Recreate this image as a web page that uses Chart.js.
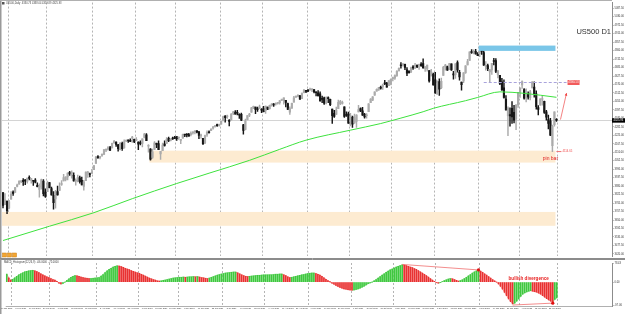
<!DOCTYPE html>
<html>
<head>
<meta charset="utf-8">
<script src="https://cdn.jsdelivr.net/npm/chart.js@4.4.1/dist/chart.umd.min.js"></script>
<style>
html, body { margin: 0; padding: 0; background: #fff; }
#wrap { position: relative; width: 625px; height: 314px; overflow: hidden; background: #fff; }
canvas { position: absolute; left: 0; }
#main { top: 0; }
#osc { top: 259px; }
</style>
</head>
<body>
<div id="wrap">
  <canvas id="main" width="625" height="259"></canvas>
  <canvas id="osc" width="625" height="55"></canvas>
</div>
<script>
// US500 D1, daily bars [open, high, low, close], 27 Jan 2021 .. 28 Feb 2022
const candles = [
  // Jan 2021
  [3836,3836,3732,3750],[3755,3830,3755,3787],[3778,3778,3694,3714],
  // Feb
  [3732,3784,3725,3774],[3791,3843,3791,3826],[3840,3848,3817,3830],[3837,3872,3837,3871],[3878,3894,3874,3887],
  [3893,3916,3893,3915],[3910,3918,3903,3911],[3920,3931,3885,3910],[3917,3925,3890,3916],[3912,3935,3901,3934],
  [3940,3950,3923,3933],[3918,3933,3901,3931],[3916,3918,3885,3913],[3921,3931,3902,3907],
  [3885,3902,3874,3877],[3857,3895,3805,3881],[3873,3928,3860,3925],[3915,3925,3814,3829],[3840,3862,3804,3811],
  // Mar
  [3842,3914,3842,3901],[3904,3906,3868,3870],[3863,3874,3818,3820],[3818,3843,3723,3768],[3793,3851,3730,3842],
  [3844,3881,3819,3821],[3851,3903,3851,3875],[3891,3918,3885,3898],[3916,3960,3916,3939],[3924,3944,3915,3943],
  [3943,3970,3923,3969],[3974,3981,3953,3963],[3949,3984,3935,3974],[3953,3970,3914,3915],[3913,3930,3886,3913],
  [3916,3955,3909,3940],[3937,3949,3901,3910],[3919,3942,3888,3889],[3879,3919,3853,3909],[3917,3978,3917,3975],
  [3969,3981,3940,3971],[3963,3969,3943,3959],[3967,3994,3966,3973],
  // Apr
  [3992,4020,3992,4020],[4034,4083,4034,4078],[4075,4087,4068,4074],[4074,4083,4064,4080],[4089,4098,4082,4097],
  [4096,4129,4095,4129],[4125,4131,4114,4128],[4130,4148,4124,4142],[4141,4151,4120,4125],[4140,4173,4140,4170],
  [4175,4191,4170,4185],[4179,4180,4150,4163],[4160,4164,4118,4135],[4128,4175,4126,4173],[4170,4179,4123,4135],
  [4139,4194,4138,4180],[4185,4194,4182,4188],[4188,4193,4176,4187],[4185,4201,4182,4184],[4206,4218,4176,4211],
  [4198,4199,4175,4181],
  // May
  [4191,4209,4188,4192],[4179,4180,4128,4165],[4177,4187,4160,4168],[4170,4202,4147,4202],[4211,4238,4208,4233],
  [4228,4237,4188,4189],[4151,4163,4111,4153],[4131,4135,4056,4063],[4075,4131,4069,4113],[4130,4183,4130,4174],
  [4170,4172,4142,4164],[4169,4187,4127,4128],[4099,4117,4062,4116],[4121,4172,4121,4159],[4168,4188,4151,4156],
  [4170,4209,4170,4198],[4205,4213,4182,4188],[4191,4203,4187,4195],[4201,4213,4197,4200],[4210,4218,4203,4204],
  // Jun
  [4216,4217,4190,4202],[4207,4213,4198,4208],[4191,4195,4168,4192],[4206,4233,4206,4230],[4229,4232,4215,4227],
  [4233,4236,4214,4227],[4232,4238,4219,4220],[4229,4249,4221,4239],[4242,4249,4233,4247],[4248,4255,4235,4255],
  [4256,4258,4241,4246],[4249,4252,4203,4224],[4221,4233,4206,4222],[4204,4205,4164,4166],[4174,4226,4168,4224],
  [4227,4256,4217,4246],[4249,4256,4241,4242],[4256,4271,4256,4266],[4274,4286,4267,4281],[4284,4292,4280,4291],
  [4293,4301,4285,4291],[4290,4302,4287,4298],
  // Jul
  [4300,4320,4300,4320],[4326,4355,4323,4352],[4356,4359,4314,4344],[4351,4362,4340,4358],[4321,4331,4289,4320],
  [4329,4372,4329,4369],[4373,4387,4365,4385],[4382,4393,4368,4369],[4381,4394,4364,4375],[4369,4371,4340,4361],
  [4367,4376,4325,4327],[4297,4300,4233,4259],[4265,4336,4262,4323],[4331,4359,4330,4359],[4362,4374,4352,4368],
  [4382,4415,4381,4412],[4410,4423,4406,4422],[4417,4417,4372,4401],[4403,4416,4387,4400],[4407,4430,4407,4419],
  [4396,4407,4378,4395],
  // Aug
  [4407,4422,4384,4387],[4392,4423,4374,4423],[4416,4416,4399,4403],[4406,4430,4403,4429],[4429,4441,4423,4437],
  [4438,4440,4421,4432],[4436,4446,4430,4436],[4442,4449,4437,4448],[4446,4461,4436,4460],[4464,4468,4460,4468],
  [4462,4480,4437,4479],[4462,4462,4418,4448],[4441,4444,4399,4400],[4382,4418,4367,4406],[4410,4444,4407,4442],
  [4450,4489,4450,4480],[4484,4492,4482,4486],[4490,4501,4485,4497],[4493,4496,4468,4470],[4474,4513,4474,4509],
  [4514,4537,4513,4529],[4529,4531,4515,4523],
  // Sep
  [4528,4537,4522,4524],[4534,4545,4529,4537],[4533,4541,4521,4535],[4535,4535,4513,4520],[4518,4521,4493,4514],
  [4514,4529,4492,4493],[4506,4520,4457,4459],[4474,4492,4446,4469],[4479,4485,4435,4443],[4447,4486,4438,4481],
  [4477,4486,4447,4474],[4470,4471,4427,4433],[4403,4403,4306,4358],[4374,4394,4347,4354],[4367,4416,4367,4396],
  [4406,4465,4406,4449],[4439,4463,4433,4455],[4442,4457,4436,4443],[4419,4419,4346,4353],[4362,4385,4354,4360],
  [4370,4382,4306,4308],
  // Oct
  [4317,4375,4289,4357],[4348,4356,4279,4300],[4310,4369,4305,4346],[4319,4365,4278,4363],[4383,4429,4383,4400],
  [4406,4412,4386,4391],[4391,4415,4360,4361],[4368,4374,4342,4350],[4358,4372,4342,4364],[4386,4440,4386,4438],
  [4447,4475,4447,4471],[4463,4488,4460,4486],[4497,4520,4496,4520],[4524,4540,4524,4537],[4533,4551,4529,4549],
  [4547,4560,4538,4545],[4553,4572,4537,4567],[4578,4598,4569,4575],[4580,4584,4551,4551],[4562,4597,4562,4596],
  [4572,4608,4567,4605],
  // Nov
  [4610,4621,4595,4614],[4613,4636,4604,4631],[4630,4664,4624,4660],[4662,4683,4662,4680],[4699,4718,4681,4697],
  [4701,4714,4694,4702],[4707,4708,4670,4685],[4670,4684,4630,4646],[4659,4664,4648,4649],[4656,4688,4650,4683],
  [4689,4698,4672,4682],[4680,4714,4679,4700],[4701,4701,4684,4689],[4700,4708,4672,4704],[4708,4718,4692,4698],
  [4712,4744,4681,4682],[4679,4692,4659,4690],[4675,4702,4660,4701],[4664,4664,4585,4595],[4628,4673,4628,4655],
  [4640,4647,4565,4567],
  // Dec
  [4602,4652,4510,4513],[4504,4595,4504,4577],[4589,4608,4495,4538],[4548,4613,4541,4592],[4631,4694,4631,4686],
  [4690,4706,4667,4701],[4691,4695,4666,4668],[4687,4713,4670,4712],[4710,4711,4666,4669],[4642,4660,4606,4635],
  [4636,4712,4611,4710],[4719,4731,4654,4669],[4652,4666,4600,4621],[4587,4587,4531,4568],[4594,4651,4583,4649],
  [4650,4698,4645,4697],[4703,4741,4703,4725],[4733,4791,4733,4791],[4795,4807,4780,4786],[4788,4805,4778,4793],
  [4795,4808,4775,4778],[4775,4787,4765,4766],
  // Jan 2022
  [4778,4797,4758,4797],[4804,4818,4774,4794],[4787,4798,4699,4701],[4693,4726,4668,4696],[4698,4708,4663,4677],
  [4656,4673,4582,4670],[4669,4714,4638,4713],[4728,4748,4703,4726],[4733,4745,4650,4659],[4637,4666,4614,4663],
  [4632,4632,4568,4577],[4588,4612,4530,4533],[4548,4602,4477,4483],[4471,4495,4395,4398],[4357,4418,4222,4410],
  [4366,4411,4287,4356],[4409,4454,4305,4350],[4381,4428,4309,4327],[4337,4432,4264,4432],[4432,4516,4414,4516],
  // Feb 2022
  [4519,4547,4482,4546],[4567,4595,4544,4589],[4535,4542,4470,4477],[4482,4540,4452,4501],[4505,4521,4471,4484],
  [4480,4531,4465,4521],[4547,4590,4547,4587],[4553,4588,4484,4504],[4507,4527,4402,4419],[4413,4427,4364,4401],
  [4430,4473,4430,4472],[4468,4490,4429,4475],[4456,4457,4373,4380],[4385,4395,4328,4349],[4332,4362,4268,4305],
  [4324,4340,4222,4226],[4155,4295,4114,4288],[4298,4385,4287,4385],[4330.73,4338.04,4319.89,4325.93]
];

// histogram values, one per bar
const macd = [
  34,18,8,12,18,24,30,35,39,43,45,47,48,49,47,44,40,35,30,26,22,19,15,11,8,3,-4,-8,-6,0,
  7,14,20,24,27,26,24,21,19,17,16,15,15,16,17,18,19,25,32,40,47,53,58,63,66,68,67,65,62,58,
  55,52,48,45,42,39,37,33,29,25,21,17,14,11,8,5,4,5,7,9,11,13,15,17,18,19,20,20,21,20,
  21,22,22,23,22,23,21,19,18,16,15,17,20,23,26,29,32,34,36,38,39,40,41,42,42,39,35,31,27,24,
  23,24,25,26,27,28,28,29,30,30,30,31,31,32,33,33,34,34,31,27,22,19,20,22,24,26,28,30,32,34,
  36,37,38,38,36,33,29,24,18,12,6,1,-4,-9,-14,-18,-22,-25,-28,-30,-32,-33,-34,-33,-31,-28,-25,-21,-17,-12,
  -7,-3,0,5,11,17,23,29,35,41,46,51,55,59,63,66,69,72,71,69,66,63,61,57,53,48,43,38,33,27,
  21,15,9,3,-2,-4,-2,2,6,10,13,15,14,11,7,4,6,10,15,20,26,32,38,43,47,49,46,41,35,29,
  23,17,11,5,0,-8,-18,-30,-43,-57,-70,-82,-91,-88,-80,-70,-60,-51,-45,-41,-38,-36,-38,-40,-42,-46,-51,-57,-63,-69,
  -75,-80,-84,-72,-66
];

// moving average: [bar index, price]
const maPoints = [
  [0,3511],[23,3608],[45,3700],[64,3795],[86,3898],[102,3968],[122,4055],[137,4130],[150,4192],
  [172,4260],[187,4305],[197,4342],[208,4385],[213,4408],[229,4460],[235,4482],[246,4520],[258,4510],[274,4483]
];

const priceTicks = [
  3420.0,3477.5,3535.0,3592.5,3650.0,3707.5,3765.0,3822.5,3880.0,3937.5,
  3995.0,4052.5,4110.0,4167.5,4225.0,4282.5,4340.0,4397.5,4455.0,4512.5,
  4570.0,4627.5,4685.0,4742.5,4800.0,4857.5,4915.0,4972.5,5030.0,5087.5
];
const oscTicks = [78.43, 0, -97.06];

// drawn levels
const zones = [{from: 73, to: 273, lo: 4040, hi: 4121}, {from: null, to: 273, lo: 3611, hi: 3705}];
const supply = {from: 236, to: 273, lo: 4798, hi: 4834};
const resistance = {from: 238, to: 279, price: 4590.13};
const pinBar = {at: 272, price: 4114.65};
const arrowPath = [[276, 4332], [279, 4512]];
const divergences = [[[197, 74], [235, 51]], [[252, -96], [272, -88]]];
const divergenceLabel = {at: 260, value: 14};

// trading day labels
const holidays = ['2021-02-15','2021-04-02','2021-05-31','2021-07-05','2021-09-06','2021-11-25','2021-12-24','2022-01-17','2022-02-21'];
const MONTHS = ['Jan','Feb','Mar','Apr','May','Jun','Jul','Aug','Sep','Oct','Nov','Dec'];
const dates = [];
let day = new Date(Date.UTC(2021, 0, 27));
while (dates.length < 302) {
  const dow = day.getUTCDay();
  if (dow !== 0 && dow !== 6 && !holidays.includes(day.toISOString().slice(0, 10))) {
    dates.push(day.getUTCDate() + ' ' + MONTHS[day.getUTCMonth()] + ' ' + day.getUTCFullYear());
  }
  day.setUTCDate(day.getUTCDate() + 1);
}

const FONT = '"Liberation Sans", Arial, sans-serif';
const monthStart = i => i > 0 && i <= candles.length && dates[i].split(' ')[1] !== dates[i - 1].split(' ')[1];
const gridColor = ctx => monthStart(ctx.index) ? '#b4b4b4' : 'rgba(0,0,0,0)';
const candleColor = ctx => {
  const c = candles[ctx.dataIndex];
  return c && c[3] >= c[0] ? '#ababab' : '#161616';
};
const last = candles[candles.length - 1];

function step(x) { return x.getPixelForValue(1) - x.getPixelForValue(0); }

const mainDecor = {
  id: 'mainDecor',
  beforeDatasetsDraw(chart) {
    const {ctx, chartArea: a, scales: {x, y}} = chart;
    const s = step(x);
    ctx.save();
    ctx.fillStyle = 'rgb(253,235,209)';
    zones.forEach(z => {
      const x0 = z.from === null ? a.left : x.getPixelForValue(z.from) - s / 2;
      const x1 = x.getPixelForValue(z.to) + s / 2;
      const y0 = y.getPixelForValue(z.hi), y1 = y.getPixelForValue(z.lo);
      ctx.fillRect(x0, y0, x1 - x0, y1 - y0);
    });
    // current price line
    const yc = Math.round(y.getPixelForValue(last[3])) + 0.5;
    ctx.strokeStyle = '#d4d4d4';
    ctx.lineWidth = 1;
    ctx.beginPath(); ctx.moveTo(a.left, yc); ctx.lineTo(a.right, yc); ctx.stroke();
    ctx.restore();
  },
  afterDatasetsDraw(chart) {
    const {ctx, scales: {x, y}} = chart;
    const s = step(x);
    ctx.save();
    // supply box at the top
    ctx.fillStyle = 'rgb(122,198,232)';
    const bx0 = x.getPixelForValue(supply.from) - s / 2, bx1 = x.getPixelForValue(supply.to) + s / 2;
    const by0 = y.getPixelForValue(supply.hi), by1 = y.getPixelForValue(supply.lo);
    ctx.fillRect(bx0, by0, bx1 - bx0, by1 - by0);

    // resistance dashed line + price tag
    const ry = Math.round(y.getPixelForValue(resistance.price)) + 0.5;
    const rx1 = x.getPixelForValue(resistance.to);
    ctx.strokeStyle = '#a9a3dc';
    ctx.lineWidth = 1;
    ctx.setLineDash([3, 2]);
    ctx.beginPath(); ctx.moveTo(x.getPixelForValue(resistance.from), ry); ctx.lineTo(rx1, ry); ctx.stroke();
    ctx.setLineDash([]);
    ctx.fillStyle = '#f25a5a';
    ctx.fillRect(rx1 + 1, ry - 2.5, 12, 5);
    ctx.fillStyle = '#fff';
    ctx.font = '2.8px ' + FONT;
    ctx.textBaseline = 'middle';
    ctx.textAlign = 'left';
    ctx.fillText(resistance.price.toFixed(2), rx1 + 1.8, ry);

    // pin bar low tag
    const px = x.getPixelForValue(pinBar.at), py = y.getPixelForValue(pinBar.price);
    ctx.strokeStyle = '#f07070';
    ctx.beginPath(); ctx.moveTo(px + 4, py); ctx.lineTo(px + 9, py); ctx.stroke();
    ctx.fillStyle = '#f05050';
    ctx.fillText(pinBar.price.toFixed(2), px + 10, py);
    ctx.font = '5px ' + FONT;
    ctx.textAlign = 'center';
    ctx.fillStyle = '#e02020';
    ctx.fillText('pin bar', px - 2, py + 7);

    // arrow up
    const ax0 = x.getPixelForValue(arrowPath[0][0]), ay0 = y.getPixelForValue(arrowPath[0][1]);
    const ax1 = x.getPixelForValue(arrowPath[1][0]), ay1 = y.getPixelForValue(arrowPath[1][1]);
    ctx.strokeStyle = '#f06262';
    ctx.lineWidth = 0.8;
    ctx.beginPath(); ctx.moveTo(ax0, ay0); ctx.lineTo(ax1, ay1); ctx.stroke();
    const ang = Math.atan2(ay1 - ay0, ax1 - ax0);
    ctx.fillStyle = '#f03c3c';
    ctx.beginPath();
    ctx.moveTo(ax1, ay1);
    ctx.lineTo(ax1 - 3 * Math.cos(ang - 0.45), ay1 - 3 * Math.sin(ang - 0.45));
    ctx.lineTo(ax1 - 3 * Math.cos(ang + 0.45), ay1 - 3 * Math.sin(ang + 0.45));
    ctx.closePath(); ctx.fill();
    ctx.restore();
  },
  afterDraw(chart) {
    const {ctx, chartArea: a, scales: {y}} = chart;
    ctx.save();
    // window frame
    ctx.strokeStyle = '#9a9a9a';
    ctx.lineWidth = 1.5;
    ctx.beginPath(); ctx.moveTo(0.75, 0); ctx.lineTo(0.75, 259); ctx.stroke();
    ctx.lineWidth = 1;
    ctx.strokeStyle = '#b0b0b0';
    ctx.beginPath(); ctx.moveTo(0, 0.5); ctx.lineTo(a.right, 0.5); ctx.stroke();
    ctx.strokeStyle = '#8c8c8c';
    ctx.beginPath(); ctx.moveTo(0, 258.5); ctx.lineTo(625, 258.5); ctx.stroke();

    // current price box on the axis
    const yc = y.getPixelForValue(last[3]);
    ctx.fillStyle = '#000';
    ctx.fillRect(a.right, yc - 2.2, 13, 4.4);
    ctx.fillStyle = '#fff';
    ctx.font = '2.7px ' + FONT;
    ctx.textBaseline = 'middle';
    ctx.textAlign = 'left';
    ctx.fillText(last[3].toFixed(2), a.right + 1.5, yc);

    // symbol caption
    ctx.fillStyle = '#333';
    ctx.font = '7.5px ' + FONT;
    ctx.textAlign = 'right';
    ctx.fillText('US500 D1', a.right - 1, 32);

    // top-left quote line
    ctx.fillStyle = '#555';
    ctx.fillRect(2, 2, 2.5, 2.5);
    ctx.font = '2.6px ' + FONT;
    ctx.textAlign = 'left';
    ctx.fillStyle = '#444';
    ctx.fillText('US500,Daily  ' + last.map(v => v.toFixed(2)).join(' '), 6, 3.5);

    // one-click buttons
    ['#f3a632', '#f3a632', '#f3a632'].forEach((c, i) => {
      ctx.fillStyle = c;
      ctx.fillRect(2.5 + i * 5, 253, 4, 4);
      ctx.strokeStyle = '#c97d10';
      ctx.lineWidth = 0.5;
      ctx.strokeRect(2.5 + i * 5, 253, 4, 4);
    });
    ctx.restore();
  }
};

const oscDecor = {
  id: 'oscDecor',
  afterDraw(chart) {
    const {ctx, chartArea: a, scales: {x, y}} = chart;
    ctx.save();
    ctx.strokeStyle = '#8c8c8c';
    ctx.lineWidth = 1;
    ctx.beginPath(); ctx.moveTo(0, 0.5); ctx.lineTo(625, 0.5); ctx.stroke();
    ctx.strokeStyle = '#9a9a9a';
    ctx.lineWidth = 1.5;
    ctx.beginPath(); ctx.moveTo(0.75, 0); ctx.lineTo(0.75, 55); ctx.stroke();
    ctx.lineWidth = 1;
    ctx.strokeStyle = '#b0b0b0';
    ctx.beginPath(); ctx.moveTo(a.left, a.bottom + 0.5); ctx.lineTo(a.right, a.bottom + 0.5); ctx.stroke();

    ctx.fillStyle = '#444';
    ctx.font = '2.6px ' + FONT;
    ctx.textBaseline = 'middle';
    ctx.fillText('MACD_Histogram(12,26,9)  ' + macd[macd.length - 1].toFixed(4) + '  ' + macd[macd.length - 2].toFixed(4), 4, 3.5);

    ctx.fillStyle = '#e82020';
    ctx.font = 'bold 4.6px ' + FONT;
    ctx.textAlign = 'center';
    ctx.fillText('bullish divergence', x.getPixelForValue(divergenceLabel.at), y.getPixelForValue(divergenceLabel.value));
    ctx.restore();
  }
};

const rightAxis = (min, max, ticks) => ({
  position: 'right', min, max,
  afterBuildTicks: s => { s.ticks = ticks.map(v => ({value: v})); },
  afterFit: s => { s.width = 13; },
  ticks: {font: {size: 2.6, family: FONT}, color: '#333', padding: 1, callback: v => Number(v).toFixed(2)},
  grid: {drawOnChartArea: false, tickLength: 1.5, color: '#888'},
  border: {color: '#8c8c8c'}
});

new Chart(document.getElementById('main'), {
  type: 'bar',
  data: {
    labels: dates,
    datasets: [
      {type: 'line', label: 'MA', data: maPoints.map(p => ({x: dates[p[0]], y: p[1]})),
       borderColor: '#3ee23e', borderWidth: 1, pointRadius: 0, cubicInterpolationMode: 'monotone', order: 0},
      {label: 'body', data: candles.map(c => [Math.min(c[0], c[3]), Math.max(c[0], c[3])]),
       backgroundColor: candleColor, barThickness: 1.5, minBarLength: 1, grouped: false, order: 1},
      {label: 'wick', data: candles.map(c => [c[2], c[1]]),
       backgroundColor: candleColor, barThickness: 0.8, grouped: false, order: 2}
    ]
  },
  options: {
    responsive: false,
    animation: false,
    devicePixelRatio: 1,
    layout: {padding: {left: 2, top: 1, bottom: 1, right: 0}},
    plugins: {legend: {display: false}, tooltip: {enabled: false}},
    scales: {
      x: {
        offset: true,
        ticks: {display: false, autoSkip: false},
        grid: {color: gridColor, drawTicks: false, offset: true},
        border: {display: false, dash: [2, 2]},
        afterFit: s => { s.height = 0; }
      },
      y: rightAxis(3403, 5126, priceTicks)
    }
  },
  plugins: [mainDecor]
});

const rising = c => c.p1.parsed.y >= c.p0.parsed.y;

new Chart(document.getElementById('osc'), {
  type: 'bar',
  data: {
    labels: dates,
    datasets: [
      {type: 'line', data: macd, fill: 'origin', borderWidth: 0.8, pointRadius: 0, tension: 0,
       borderColor: 'rgba(240,120,120,0.8)', backgroundColor: 'rgba(255,160,160,0.35)',
       segment: {
         borderColor: c => rising(c) ? 'rgba(120,215,120,0.9)' : 'rgba(242,120,120,0.9)',
         backgroundColor: c => rising(c) ? 'rgba(160,232,160,0.4)' : 'rgba(255,165,165,0.4)'
       }, order: 3},
      {data: macd, barThickness: 1, grouped: false, order: 2,
       backgroundColor: c => c.dataIndex > 0 && macd[c.dataIndex] < macd[c.dataIndex - 1] ? '#e83232' : '#3fc83f'},
      ...divergences.map(dv => ({
        type: 'line', data: dv.map(p => ({x: dates[p[0]], y: p[1]})),
        borderColor: '#f07070', borderWidth: 0.8, pointRadius: [0, 1.6],
        pointBackgroundColor: '#e01010', pointBorderWidth: 0, order: 0
      }))
    ]
  },
  options: {
    responsive: false,
    animation: false,
    devicePixelRatio: 1,
    layout: {padding: {left: 2, top: 1, bottom: 0, right: 0}},
    plugins: {legend: {display: false}, tooltip: {enabled: false}},
    scales: {
      x: {
        offset: true,
        ticks: {autoSkip: false, maxRotation: 0, minRotation: 0, padding: 1,
                font: {size: 2.1, family: FONT}, color: '#444',
                callback: (v, i) => (i % 7 === 0 && i < candles.length) ? dates[i] : ''},
        grid: {color: gridColor, drawTicks: false, offset: true},
        border: {display: false, dash: [2, 2]},
        afterFit: s => { s.height = 8; }
      },
      y: rightAxis(-100, 80, oscTicks)
    }
  },
  plugins: [oscDecor]
});
</script>
</body>
</html>
